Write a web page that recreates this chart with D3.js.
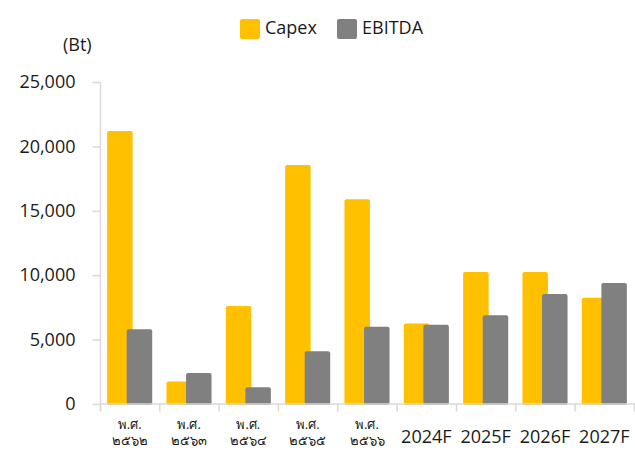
<!DOCTYPE html>
<html>
<head>
<meta charset="utf-8">
<script src="https://cdnjs.cloudflare.com/ajax/libs/d3/7.8.5/d3.min.js"></script>
<style>
  body { margin: 0; background: #fff; }
  svg text { font-family: "Open Sans", sans-serif; fill: #1a1a1a; }
</style>
</head>
<body>
<div class="svg-container"></div>
<script>
var width = 635;
var height = 450;

// data
var years = ["พ.ศ. ๒๕๖๒", "พ.ศ. ๒๕๖๓", "พ.ศ. ๒๕๖๔", "พ.ศ. ๒๕๖๕", "พ.ศ. ๒๕๖๖",
             "2024F", "2025F", "2026F", "2027F"];
var capex  = [21200, 1750, 7600, 18550, 15900, 6250, 10250, 10250, 8250];
var ebitda = [5800, 2400, 1300, 4100, 6000, 6150, 6900, 8550, 9400];
var yTicks = [0, 5000, 10000, 15000, 20000, 25000];
var seriesNames = ["Capex", "EBITDA"];
var colors = ["#FFC000", "#808080"];

var padding = { "top": 82, "right": 1, "bottom": 46, "left": 100 };

var svg = d3.select(".svg-container")
            .append("svg")
            .attr("width", width)
            .attr("height", height);

var scaleX = d3.scaleBand()
               .domain(years)
               .range([padding.left, width - padding.right])
               .padding(0);

var scaleY = d3.scaleLinear()
               .domain([0, 25000])
               .range([height - padding.bottom, padding.top]);

var bw = scaleX.bandwidth();
var barWidth = bw * 0.43;
var shift = bw * 0.33; // gray bar overlaps the yellow one
var start = (bw - barWidth - shift) / 2;

var rows = years.map(function(d, i) { return { year: d, values: [capex[i], ebitda[i]] }; });

// bars
var groups = svg.append("g")
                .attr("class", "bars")
                .selectAll("g")
                .data(rows)
                .enter()
                .append("g")
                .attr("transform", function(d) { return "translate(" + scaleX(d.year) + ",0)"; });

groups.selectAll("rect")
      .data(function(d) { return d.values; })
      .enter()
      .append("rect")
      .attr("x", function(d, i) { return start + i * shift; })
      .attr("y", function(d) { return scaleY(d); })
      .attr("width", barWidth)
      .attr("height", function(d) { return scaleY(0) - scaleY(d) + 1; })
      .attr("rx", 2)
      .attr("fill", function(d, i) { return colors[i]; });

// y axis
var yAxis = svg.append("g")
               .attr("class", "yAxis")
               .attr("transform", "translate(" + (padding.left + 0.5) + ",0)")
               .call(d3.axisLeft(scaleY)
                       .tickValues(yTicks)
                       .tickSize(8)
                       .tickSizeOuter(0)
                       .tickPadding(17)
                       .tickFormat(d3.format(",")));

yAxis.select(".domain").remove();
yAxis.selectAll("line").attr("stroke", "#d9d9d9").attr("stroke-width", 1.5);
yAxis.selectAll("text").style("font-size", "18px").attr("fill", "#1a1a1a");

svg.append("line")
   .attr("x1", padding.left + 0.5).attr("x2", padding.left + 0.5)
   .attr("y1", scaleY(25000)).attr("y2", scaleY(0) + 7)
   .attr("stroke", "#d9d9d9").attr("stroke-width", 1.5);

// x axis
var xAxis = svg.append("g")
               .attr("class", "xAxis")
               .attr("transform", "translate(0," + (scaleY(0) - 0.5) + ")")
               .call(d3.axisBottom(scaleX).tickSize(0).tickPadding(27));

xAxis.select(".domain").attr("stroke", "#d9d9d9").attr("stroke-width", 1.5);
xAxis.selectAll("text")
     .style("font-size", "18px")
     .attr("fill", "#1a1a1a");

// thai labels wrapped on two lines
xAxis.selectAll(".tick text")
     .filter(function(d) { return !/F$/.test(d); })
     .each(function(d) {
        var parts = d.split(" ");
        var t = d3.select(this).text(null).style("font-size", "13px").attr("y", 14).attr("dy", null);
        parts.forEach(function(p, i) {
          t.append("tspan").attr("x", 0).attr("dy", i == 0 ? "0.9em" : "1.25em").text(p);
        });
     });

var bounds = years.map(function(d) { return scaleX(d); }).concat([width - padding.right]);
xAxis.selectAll(".bound")
     .data(bounds)
     .enter()
     .append("line")
     .attr("class", "bound")
     .attr("x1", function(d) { return d + 0.5; })
     .attr("x2", function(d) { return d + 0.5; })
     .attr("y1", 0).attr("y2", 8)
     .attr("stroke", "#d9d9d9").attr("stroke-width", 1.5);

// unit label
svg.append("text")
   .attr("x", 63)
   .attr("y", 51)
   .style("font-size", "18px")
   .text("(Bt)");

// legend
var legend = svg.append("g")
                .attr("class", "legend")
                .selectAll("g")
                .data(seriesNames)
                .enter()
                .append("g")
                .attr("transform", function(d, i) { return "translate(" + (240 + i * 97) + ",19)"; });

legend.append("rect")
      .attr("width", 20).attr("height", 20).attr("rx", 2)
      .attr("fill", function(d, i) { return colors[i]; });

legend.append("text")
      .attr("x", 25)
      .attr("y", 15)
      .style("font-size", "18px")
      .text(function(d) { return d; });
</script>
</body>
</html>
